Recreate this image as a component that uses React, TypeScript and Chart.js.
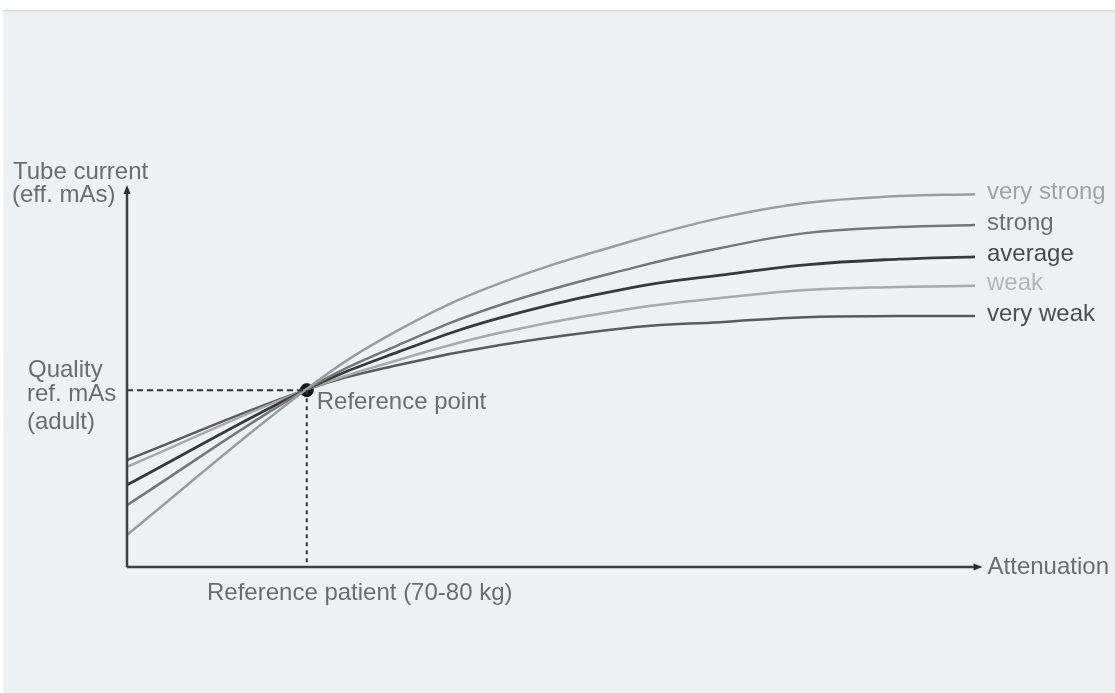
import React, { useEffect, useRef } from "react";
import { Chart, registerables } from "chart.js";

Chart.register(...registerables);

const xValues = [0, 21, 32, 44, 60, 70, 80, 91, 100];
const veryStrong = [8.4, 46.3, 62.0, 74.3, 85.6, 91.4, 95.3, 97.1, 97.6];
const strong = [16.2, 46.3, 58.1, 68.6, 78.5, 83.5, 87.4, 89.0, 89.5];
const average = [21.5, 46.3, 56.3, 65.2, 73.3, 76.4, 79.1, 80.6, 81.2];
const weak = [26.2, 46.3, 54.2, 61.3, 67.8, 70.4, 72.5, 73.3, 73.6];
const veryWeak = [28.0, 46.3, 52.9, 58.1, 62.8, 64.1, 65.4, 65.7, 65.7];

const seriesNames = ["very strong", "strong", "average", "weak", "very weak"];
const seriesValues = [veryStrong, strong, average, weak, veryWeak];
const lineColors = ["#9c9c9c", "#767676", "#383838", "#a9a9a9", "#5a5a5a"];
const labelColors = ["#a2a2a2", "#6e6e6e", "#4a4a4a", "#b4b4b4", "#4e4e4e"];

const referencePoint = { x: 21.2, y: 46.3 };
const yAxisTitle = ["Tube current", "(eff. mAs)"];
const yRefLabel = ["Quality", "ref. mAs", "(adult)"];
const xRefLabel = "Reference patient (70-80 kg)";
const refPointLabel = "Reference point";
const xAxisTitle = "Attenuation";

const FONT = '24px "Liberation Sans", Arial, sans-serif';
const TEXT = "#6c6c6c";

const diagramPlugin = {
  id: "diagram",
  beforeDraw(chart: any) {
    const ctx = chart.ctx;
    ctx.save();
    ctx.fillStyle = "#ffffff";
    ctx.fillRect(0, 0, chart.width, chart.height);
    ctx.fillStyle = "#eff0f2";
    ctx.fillRect(3, 10, chart.width - 3, chart.height - 10);
    ctx.fillStyle = "#eef1f4";
    ctx.fillRect(3, 97, chart.width - 3, chart.height - 97);
    ctx.fillStyle = "#dcdce0";
    ctx.fillRect(3, 10, chart.width - 3, 1.5);
    ctx.restore();
  },
  afterDatasetsDraw(chart: any) {
    const ctx = chart.ctx;
    const xs = chart.scales.x;
    const ys = chart.scales.y;
    const left = xs.getPixelForValue(0);
    const bottom = ys.getPixelForValue(0);
    const rx = xs.getPixelForValue(referencePoint.x);
    const ry = ys.getPixelForValue(referencePoint.y);
    ctx.save();
    // dashed guides
    ctx.strokeStyle = "#333333";
    ctx.lineWidth = 2;
    ctx.setLineDash([6, 4]);
    ctx.beginPath();
    ctx.moveTo(left, ry);
    ctx.lineTo(rx, ry);
    ctx.stroke();
    ctx.setLineDash([4, 4]);
    ctx.beginPath();
    ctx.moveTo(rx, ry);
    ctx.lineTo(rx, bottom);
    ctx.stroke();
    ctx.setLineDash([]);
    // axes
    ctx.strokeStyle = "#3e3e3e";
    ctx.lineWidth = 2.5;
    const topY = ys.getPixelForValue(98.4);
    const rightX = xs.getPixelForValue(100.3);
    ctx.beginPath();
    ctx.moveTo(left, bottom);
    ctx.lineTo(left, topY);
    ctx.moveTo(left, bottom);
    ctx.lineTo(rightX, bottom);
    ctx.stroke();
    ctx.fillStyle = "#2e2e2e";
    ctx.beginPath();
    ctx.moveTo(left, topY - 6);
    ctx.lineTo(left - 3.5, topY + 3);
    ctx.lineTo(left + 3.5, topY + 3);
    ctx.closePath();
    ctx.fill();
    ctx.beginPath();
    ctx.moveTo(rightX + 5, bottom);
    ctx.lineTo(rightX - 4, bottom - 3.5);
    ctx.lineTo(rightX - 4, bottom + 3.5);
    ctx.closePath();
    ctx.fill();
    // texts
    ctx.font = FONT;
    ctx.textBaseline = "middle";
    ctx.textAlign = "left";
    ctx.fillStyle = TEXT;
    ctx.fillText(yAxisTitle[0], 13, 172);
    ctx.fillText(yAxisTitle[1], 12, 195);
    ctx.fillText(yRefLabel[0], 28, 370);
    ctx.fillText(yRefLabel[1], 27, 394);
    ctx.fillText(yRefLabel[2], 27, 422);
    ctx.fillText(refPointLabel, rx + 10, ry + 12);
    ctx.fillText(xRefLabel, 207, bottom + 26);
    ctx.fillText(xAxisTitle, rightX + 10, bottom);
    // series labels
    chart.data.datasets.forEach((ds: any, i: number) => {
      if (i >= seriesNames.length) return;
      const meta = chart.getDatasetMeta(i);
      const last = meta.data[meta.data.length - 1];
      ctx.fillStyle = labelColors[i];
      ctx.fillText(seriesNames[i], last.x + 12, last.y - 2);
    });
    ctx.restore();
  },
};

export default function App() {
  const ref = useRef<HTMLCanvasElement | null>(null);
  useEffect(() => {
    document.body.style.margin = "0";
    if (!ref.current) return;
    const datasets: any[] = seriesValues.map((vals, i) => ({
      label: seriesNames[i],
      data: xValues.map((x, j) => ({ x, y: vals[j] })),
      borderColor: lineColors[i],
      borderWidth: i === 2 ? 2.8 : 2.5,
      pointRadius: 0,
      fill: false,
      tension: 0.4,
    }));
    datasets.push({
      label: "Reference point",
      data: [referencePoint],
      showLine: false,
      pointRadius: 6.5,
      pointBackgroundColor: "#151515",
      pointBorderColor: "#151515",
      borderColor: "#151515",
    });
    const chart = new Chart(ref.current, {
      type: "line",
      data: { datasets },
      options: {
        animation: false,
        responsive: false,
        layout: { padding: { left: 127, right: 140, top: 185, bottom: 126 } },
        scales: {
          x: { type: "linear", min: 0, max: 100, display: false },
          y: { type: "linear", min: 0, max: 100, display: false },
        },
        plugins: { legend: { display: false }, tooltip: { enabled: false } },
      },
      plugins: [diagramPlugin],
    } as any);
    return () => chart.destroy();
  }, []);
  return (
    <div style={{ width: 1115, height: 693 }}>
      <canvas ref={ref} width={1115} height={693} style={{ display: "block" }} />
    </div>
  );
}
